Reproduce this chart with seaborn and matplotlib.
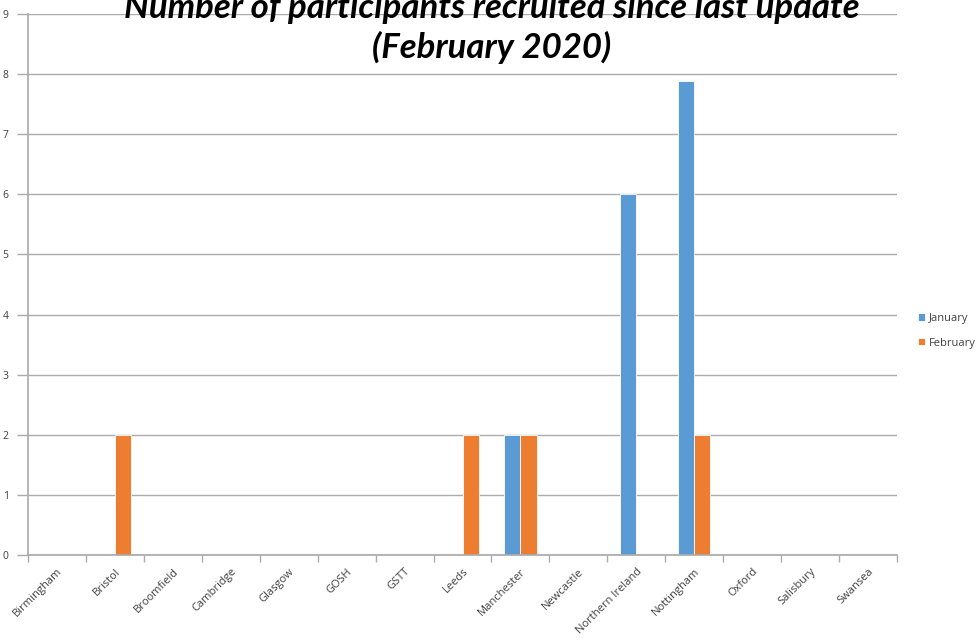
import matplotlib
matplotlib.use("Agg")
import matplotlib.pyplot as plt
import seaborn as sns
import pandas as pd
import numpy as np

sites = ["Birmingham", "Bristol", "Broomfield", "Cambridge", "Glasgow", "GOSH", "GSTT",
         "Leeds", "Manchester", "Newcastle", "Northern Ireland", "Nottingham", "Oxford",
         "Salisbury", "Swansea"]
january = [0, 0, 0, 0, 0, 0, 0, 0, 2, 0, 6, 7.88, 0, 0, 0]
february = [0, 2, 0, 0, 0, 0, 0, 2, 2, 0, 0, 2, 0, 0, 0]
series_names = ["January", "February"]
yticks = list(range(0, 10))
title = "Number of participants recruited since last update\n(February 2020)"

df = pd.DataFrame({
    "Site": sites * 2,
    "Month": [series_names[0]] * len(sites) + [series_names[1]] * len(sites),
    "Count": january + february,
})

sns.set_theme(style="white")
plt.rcParams['font.family'] = ['Open Sans', 'DejaVu Sans']

fig = plt.figure(figsize=(9.8, 6.4), dpi=100)
ax = fig.add_axes([28/980, 1 - 555/640, (897 - 28)/980, (555 - 14)/640])

palette = {"January": "#5B9BD5", "February": "#ED7D31"}
sns.barplot(data=df, x="Site", y="Count", hue="Month", order=sites,
            hue_order=series_names, palette=palette, width=0.56,
            edgecolor="white", linewidth=0.6, saturation=1, ax=ax, legend=True)

ax.set_ylim(0, 9)
ax.set_xlim(-0.5, len(sites) - 0.5)
ax.set_yticks(yticks)
ax.set_yticklabels([str(t) for t in yticks], fontsize=7.5, color="#404040")
ax.yaxis.grid(True, color="#ABABAB", linewidth=1)
ax.set_axisbelow(True)
ax.set_xlabel("")
ax.set_ylabel("")

for s in ["top", "right"]:
    ax.spines[s].set_visible(False)
ax.spines["left"].set_color("#ABABAB")
ax.spines["bottom"].set_color("#ABABAB")
ax.tick_params(axis="y", which="major", left=True, length=8, width=1, color="#ABABAB", pad=6)

ax.set_xticks(range(len(sites)))
ax.set_xticklabels(sites, rotation=45, ha="right", rotation_mode="anchor",
                   fontsize=8, color="#404040")
ax.tick_params(axis="x", which="major", length=0, pad=8)
ax.set_xticks(np.arange(-0.5, len(sites) + 0.5, 1), minor=True)
ax.tick_params(axis="x", which="minor", bottom=True, length=5, width=1, color="#ABABAB")

leg = ax.legend(loc="center left", bbox_to_anchor=(0.927, 0.483),
                bbox_transform=fig.transFigure, frameon=False, fontsize=8,
                handlelength=0.6, handleheight=0.6, handletextpad=0.3, labelspacing=1.25)
for t in leg.get_texts():
    t.set_color("#404040")

fig.text(0.502, 1 - 28/640, title, ha="center", va="center", fontsize=25,
         fontweight="bold", fontstyle="italic", linespacing=1.25, color="black",
         family=["Lato", "Open Sans", "DejaVu Sans"])

fig.savefig("out.png", dpi=100)
